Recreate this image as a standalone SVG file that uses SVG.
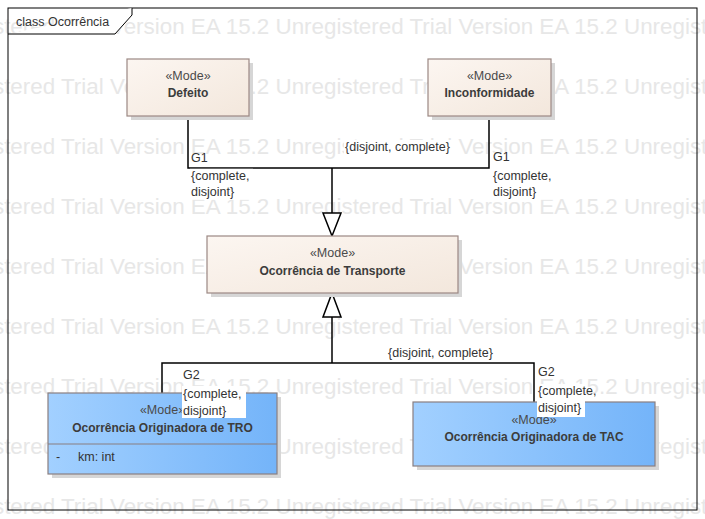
<svg xmlns="http://www.w3.org/2000/svg" width="705" height="519" viewBox="0 0 705 519">
<defs>
<linearGradient id="beige" x1="0" y1="0" x2="1" y2="1"><stop offset="0" stop-color="#fcf6f1"/><stop offset="1" stop-color="#f3e7dc"/></linearGradient>
<linearGradient id="blue" x1="0" y1="0" x2="1" y2="0"><stop offset="0" stop-color="#a2d0ff"/><stop offset="1" stop-color="#74b4f9"/></linearGradient>
<style>
.wm{font-family:"Liberation Sans",Arial,sans-serif;font-size:22.4px;fill:#e7e7e7}
.st{font-family:"Liberation Sans",Arial,sans-serif;font-size:12.5px;fill:#4a4a4a;text-anchor:middle}
.nm{font-family:"Liberation Sans",Arial,sans-serif;font-size:12px;font-weight:bold;fill:#3c3c3c;text-anchor:middle}
.lb{font-family:"Liberation Sans",Arial,sans-serif;font-size:12.5px;fill:#333}
.sh{fill:#d6d6d6}
.bn{fill:url(#beige);stroke:#9b8884;stroke-width:1.2}
.bl{fill:url(#blue);stroke:#8a7f80;stroke-width:1.2}
.ln{fill:none;stroke:#000;stroke-width:1.5}
.tri{fill:#fff;stroke:#000;stroke-width:1.5}
.bg{fill:#fff}
</style>
</defs>
<rect width="705" height="519" fill="#fff"/>
<g id="watermark">
<text class="wm" x="-73" y="34">Unregistered Trial Version EA 15.2 Unregistered Trial Version EA 15.2 Unregistered Trial Version EA 15.2</text>
<text class="wm" x="-73" y="94">Unregistered Trial Version EA 15.2 Unregistered Trial Version EA 15.2 Unregistered Trial Version EA 15.2</text>
<text class="wm" x="-73" y="154">Unregistered Trial Version EA 15.2 Unregistered Trial Version EA 15.2 Unregistered Trial Version EA 15.2</text>
<text class="wm" x="-73" y="214">Unregistered Trial Version EA 15.2 Unregistered Trial Version EA 15.2 Unregistered Trial Version EA 15.2</text>
<text class="wm" x="-73" y="274">Unregistered Trial Version EA 15.2 Unregistered Trial Version EA 15.2 Unregistered Trial Version EA 15.2</text>
<text class="wm" x="-73" y="334">Unregistered Trial Version EA 15.2 Unregistered Trial Version EA 15.2 Unregistered Trial Version EA 15.2</text>
<text class="wm" x="-73" y="394">Unregistered Trial Version EA 15.2 Unregistered Trial Version EA 15.2 Unregistered Trial Version EA 15.2</text>
<text class="wm" x="-73" y="454">Unregistered Trial Version EA 15.2 Unregistered Trial Version EA 15.2 Unregistered Trial Version EA 15.2</text>
<text class="wm" x="-73" y="514">Unregistered Trial Version EA 15.2 Unregistered Trial Version EA 15.2 Unregistered Trial Version EA 15.2</text>
</g>
<g id="frame">
<rect x="8" y="8" width="689" height="502" fill="none" stroke="#000" stroke-width="1"/>
<path d="M8,34 H115 L132,15 V8" fill="#fff" stroke="#000" stroke-width="1"/>
<text class="lb" x="16" y="26">class Ocorrência</text>
</g>
<g id="connectors">
<path class="ln" d="M188,116 V168 H489 V116"/>
<path class="ln" d="M332,168 V213"/>
<polygon class="tri" points="323,213 341,213 332,236"/>
<path class="ln" d="M162,393 V363 H534 V402"/>
<path class="ln" d="M332,363 V317"/>
<polygon class="tri" points="332,293 341,317 323,317"/>
</g>
<g id="node-defeito">
<rect class="sh" x="131" y="63" width="122" height="57"/>
<rect class="bn" x="127" y="59" width="122" height="57"/>
<text class="st" x="188" y="80">«Mode»</text>
<text class="nm" x="188" y="97">Defeito</text>
</g>
<g id="node-inconformidade">
<rect class="sh" x="432" y="63" width="123" height="57"/>
<rect class="bn" x="428" y="59" width="123" height="57"/>
<text class="st" x="489.5" y="80">«Mode»</text>
<text class="nm" x="489.5" y="97">Inconformidade</text>
</g>
<g id="node-transporte">
<rect class="sh" x="211" y="240" width="251" height="57"/>
<rect class="bn" x="207" y="236" width="251" height="57"/>
<text class="st" x="332.5" y="257">«Mode»</text>
<text class="nm" x="332.5" y="275">Ocorrência de Transporte</text>
</g>
<g id="node-tro">
<rect class="sh" x="52" y="397" width="229" height="81"/>
<rect class="bl" x="48" y="393" width="229" height="81"/>
<line x1="48" y1="444" x2="277" y2="444" stroke="#8a7f80" stroke-width="1.2"/>
<text class="st" x="162.5" y="414">«Mode»</text>
<text class="nm" x="162.5" y="432">Ocorrência Originadora de TRO</text>
<text class="lb" x="56" y="461">-</text>
<text class="lb" x="78" y="461">km: int</text>
</g>
<g id="node-tac">
<rect class="sh" x="417" y="406" width="242" height="64"/>
<rect class="bl" x="413" y="402" width="242" height="64"/>
<text class="st" x="534" y="424">«Mode»</text>
<text class="nm" x="534" y="441">Ocorrência Originadora de TAC</text>
</g>
<g id="labels">
<rect class="bg" x="344" y="140" width="110" height="15"/>
<text class="lb" x="345" y="151">{disjoint, complete}</text>
<rect class="bg" x="190" y="168.8" width="63" height="31"/>
<text class="lb" x="191" y="162">G1</text>
<text class="lb" x="191" y="180">{complete,</text>
<text class="lb" x="191" y="196">disjoint}</text>
<rect class="bg" x="491" y="168.8" width="63" height="31"/>
<text class="lb" x="493" y="161">G1</text>
<text class="lb" x="493" y="180">{complete,</text>
<text class="lb" x="493" y="196">disjoint}</text>
<rect class="bg" x="387" y="346" width="111" height="15"/>
<text class="lb" x="388" y="357">{disjoint, complete}</text>
<rect class="bg" x="182" y="386" width="64" height="32"/>
<text class="lb" x="183" y="379">G2</text>
<text class="lb" x="183" y="398">{complete,</text>
<text class="lb" x="183" y="415">disjoint}</text>
<rect class="bg" x="537" y="384" width="48" height="33"/>
<text class="lb" x="538" y="376">G2</text>
<text class="lb" x="538" y="395">{complete,</text>
<text class="lb" x="538" y="412">disjoint}</text>
</g>
</svg>
